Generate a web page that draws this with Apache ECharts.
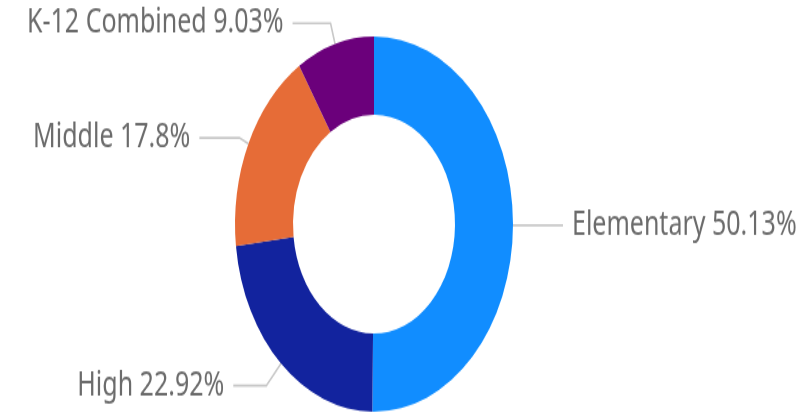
<!DOCTYPE html>
<html>
<head>
<meta charset="utf-8">
<script src="https://cdn.jsdelivr.net/npm/echarts@6/dist/echarts.min.js"></script>
<style>
  html, body { margin: 0; padding: 0; background: #fff; }
  body { width: 807px; height: 413px; }
  /* the reference donut is stretched vertically, so draw round and stretch the box */
  #chart {
    width: 807px;
    height: 306px;
    transform: scaleY(1.35);
    transform-origin: 0 0;
  }
</style>
</head>
<body>
<div id="chart"></div>
<script>
// data
const categories = ['Elementary', 'High', 'Middle', 'K-12 Combined']
const shares = [50.13, 22.92, 17.8, 9.03]
const colors = ['#118DFF', '#12239E', '#E66C37', '#6B007B']

// label line segments per slice (unscaled px)
const lineLength = {
  'Elementary': [10, 40],
  'High': [22, 33],
  'Middle': [10, 40],
  'K-12 Combined': [16, 38]
}

const chart = echarts.init(document.getElementById('chart'))

const option = {
  animation: false,
  color: colors,
  series: [
    {
      name: 'School type',
      type: 'pie',
      center: [374, 166],
      radius: [81, 139],
      startAngle: 90,
      clockwise: true,
      avoidLabelOverlap: false,
      label: {
        show: true,
        position: 'outside',
        formatter: '{b} {c}%',
        fontFamily: 'Noto Sans',
        fontSize: 25,
        color: '#6b6b6b',
        padding: [6, 0, 0, 0],
        distanceToLabelLine: 9
      },
      labelLine: {
        show: true,
        length: 10,
        length2: 40,
        lineStyle: {
          color: '#c8c8c8',
          width: 1.6
        }
      },
      data: categories.map((name, i) => ({
        name: name,
        value: shares[i],
        labelLine: { length: lineLength[name][0], length2: lineLength[name][1] }
      }))
    }
  ]
}

chart.setOption(option)
</script>
</body>
</html>
